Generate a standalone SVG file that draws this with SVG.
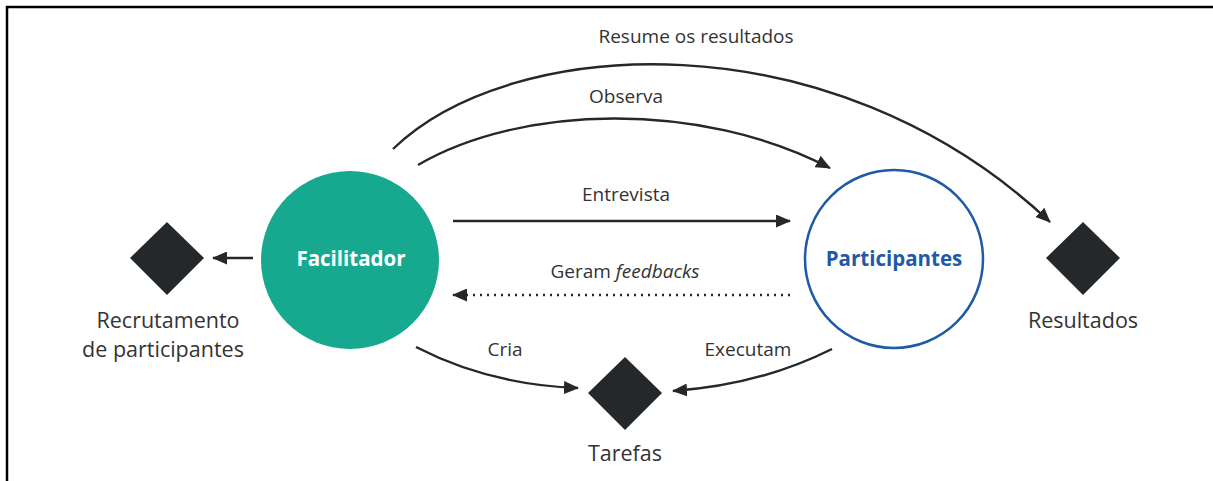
<svg xmlns="http://www.w3.org/2000/svg" width="1213" height="481" viewBox="0 0 1213 481">
<style>
.lbl{font-family:"Open Sans","Liberation Sans",sans-serif;font-size:19px;fill:#333;text-anchor:middle}
.big{font-size:21.5px}
.node{font-family:"Open Sans","Liberation Sans",sans-serif;font-size:20.5px;font-weight:bold;text-anchor:middle}
.c{fill:none;stroke:#24282b;stroke-width:2.4}
.d{fill:#24282b}
</style>
<defs>
<marker id="ah" markerUnits="userSpaceOnUse" markerWidth="15" markerHeight="13" refX="14" refY="6.5" orient="auto">
<path d="M0,0 L15,6.5 L0,13 Z" fill="#24282b"/>
</marker>
</defs>
<rect width="1213" height="481" fill="#fff"/>
<path d="M7,481 V7 H1213" fill="none" stroke="#000" stroke-width="2.5"/>

<g id="connectors">
<path class="c" d="M393,149 C510,35 830,15 1050,222" marker-end="url(#ah)"/>
<path class="c" d="M418,165 C520,105 700,100 830,168" marker-end="url(#ah)"/>
<path class="c" d="M453,221 H790" marker-end="url(#ah)"/>
<path class="c" d="M790,295 H453" stroke-dasharray="2,5" marker-end="url(#ah)"/>
<path class="c" d="M253,258 H213" marker-end="url(#ah)"/>
<path class="c" d="M416,347 Q490,385 578,388" marker-end="url(#ah)"/>
<path class="c" d="M832,349 Q760,385 673,391" marker-end="url(#ah)"/>
<text class="lbl" x="696" y="43">Resume os resultados</text>
<text class="lbl" x="626" y="103">Observa</text>
<text class="lbl" x="626" y="201">Entrevista</text>
<text class="lbl" x="625" y="278">Geram <tspan font-style="italic">feedbacks</tspan></text>
<text class="lbl" x="505" y="356">Cria</text>
<text class="lbl" x="748" y="356">Executam</text>
</g>

<g id="facilitador">
<circle cx="350" cy="260" r="89" fill="#17a98f"/>
<text class="node" x="351" y="266" fill="#fff">Facilitador</text>
</g>
<g id="participantes">
<circle cx="894" cy="259" r="89" fill="#fff" stroke="#1f5aa6" stroke-width="2.5"/>
<text class="node" x="894" y="266" fill="#1f5aa6">Participantes</text>
</g>
<g id="recrutamento">
<path class="d" d="M167,222 L204,258 L167,295 L130,258 Z"/>
<text class="lbl big" x="168" y="328">Recrutamento</text>
<text class="lbl big" x="163" y="357">de participantes</text>
</g>
<g id="resultados">
<path class="d" d="M1083,222 L1120,258 L1083,295 L1046,258 Z"/>
<text class="lbl big" x="1083" y="328">Resultados</text>
</g>
<g id="tarefas">
<path class="d" d="M625,357 L662,393 L625,430 L588,393 Z"/>
<text class="lbl big" x="625" y="461">Tarefas</text>
</g>
</svg>
